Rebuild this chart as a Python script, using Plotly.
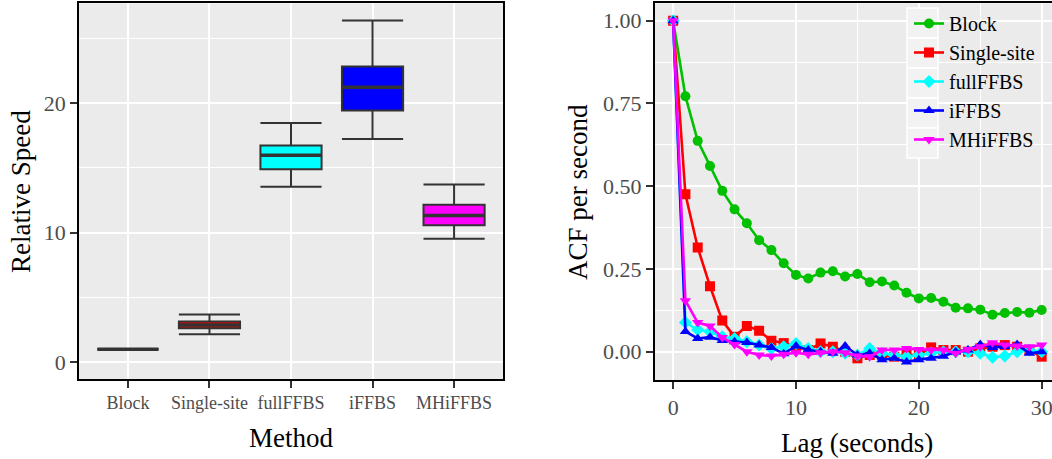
import plotly.graph_objects as go

FONT = "Liberation Serif"

# ---------------- data ----------------
methods = ["Block", "Single-site", "fullFFBS", "iFFBS", "MHiFFBS"]
colors = ["#00C000", "#FF0000", "#00FFFF", "#0000FF", "#FF00FF"]
q_low = [1.0, 2.16, 13.54, 17.22, 9.54]
q1 = [1.0, 2.63, 14.90, 19.43, 10.58]
med = [1.0, 2.88, 15.98, 21.23, 11.32]
q3 = [1.0, 3.14, 16.73, 22.83, 12.15]
q_high = [1.0, 3.68, 18.46, 26.38, 13.71]

lags = list(range(31))
acf_block = [1.00, 0.772, 0.637, 0.561, 0.486, 0.430, 0.388, 0.337, 0.307, 0.267,
             0.232, 0.221, 0.239, 0.243, 0.227, 0.235, 0.210, 0.212, 0.200, 0.178,
             0.161, 0.162, 0.151, 0.133, 0.131, 0.127, 0.112, 0.117, 0.120, 0.118, 0.126]
acf_single = [1.00, 0.476, 0.315, 0.198, 0.094, 0.045, 0.078, 0.063, 0.033, 0.026,
              0.015, 0.005, 0.025, 0.015, 0.000, -0.020, -0.010, -0.010, -0.015, -0.010,
              -0.010, 0.013, 0.005, 0.005, 0.000, 0.010, 0.015, 0.020, 0.015, 0.005, -0.015]
acf_full = [1.00, 0.088, 0.066, 0.060, 0.045, 0.040, 0.030, 0.020, 0.010, 0.015,
            0.025, 0.010, 0.000, 0.000, -0.005, -0.010, 0.010, -0.005, -0.010, -0.015,
            -0.010, -0.005, 0.000, 0.000, 0.000, -0.005, -0.017, -0.013, 0.000, 0.005, 0.000]
acf_iffbs = [1.00, 0.061, 0.040, 0.044, 0.034, 0.030, 0.028, 0.020, 0.013, -0.006,
             0.017, 0.005, 0.000, -0.005, 0.017, -0.010, -0.005, -0.024, -0.020, -0.031,
             -0.024, -0.020, -0.014, 0.000, 0.005, 0.022, 0.013, 0.016, 0.022, -0.005, 0.000]
acf_mh = [1.00, 0.154, 0.088, 0.078, 0.043, 0.022, 0.000, -0.010, -0.013, -0.008,
          -0.003, -0.008, -0.003, 0.000, -0.003, -0.013, -0.015, 0.005, 0.005, 0.010,
          0.007, 0.005, 0.005, -0.005, 0.007, 0.015, 0.027, 0.020, 0.017, 0.015, 0.020]
acf_series = [acf_block, acf_single, acf_full, acf_iffbs, acf_mh]
symbols = ["circle", "square", "diamond", "triangle-up", "triangle-down"]

# ---------------- figure ----------------
fig = go.Figure()
BOXW = 0.75
for i, m in enumerate(methods):
    fig.add_trace(go.Box(
        x=[i], q1=[q1[i]], median=[med[i]], q3=[q3[i]],
        lowerfence=[q_low[i]], upperfence=[q_high[i]],
        width=BOXW, whiskerwidth=1, fillcolor=colors[i],
        line=dict(color="#333333", width=2), boxpoints=False,
        showlegend=False, hoverinfo="skip", xaxis="x", yaxis="y"))
    fig.add_trace(go.Scatter(
        x=[i - BOXW / 2, i + BOXW / 2], y=[med[i], med[i]], mode="lines",
        line=dict(color="#333333", width=3.5), showlegend=False,
        hoverinfo="skip", xaxis="x", yaxis="y"))

for i, m in enumerate(methods):
    fig.add_trace(go.Scatter(
        x=lags, y=acf_series[i], mode="lines+markers", name=m,
        line=dict(color=colors[i], width=2.6),
        marker=dict(symbol=symbols[i], size=10, color=colors[i]),
        xaxis="x2", yaxis="y2"))

W, H = 1052, 459
def px_x(p):
    return p / W
def px_y(p):
    return 1 - p / H

grid_major = dict(showgrid=True, gridcolor="white", gridwidth=1.6)
tick_common = dict(ticks="outside", ticklen=7, tickwidth=1.6, tickcolor="#333333",
                   showline=True, linecolor="black", linewidth=1.5, zeroline=False)

fig.update_layout(
    width=W, height=H,
    margin=dict(l=0, r=0, t=0, b=0),
    paper_bgcolor="white", plot_bgcolor="#EBEBEB",
    font=dict(family=FONT, color="black"),
    xaxis=dict(domain=[px_x(79), px_x(503)], range=[-0.6, 4.6],
               tickvals=list(range(5)), ticktext=methods,
               tickfont=dict(size=18, color="#4D4D4D", family=FONT),
               mirror=True, anchor="y", **grid_major, **tick_common),
    yaxis=dict(domain=[px_y(379), px_y(3.3)], range=[-1.29, 27.7],
               tickvals=[0, 10, 20], tickfont=dict(size=22, color="#4D4D4D", family=FONT),
               minor=dict(showgrid=True, gridcolor="white", gridwidth=0.8, tickvals=[5, 15, 25], ticks=""),
               mirror=True, anchor="x", **grid_major, **tick_common),
    xaxis2=dict(domain=[px_x(654.7), 1.0], range=[-1.5, 30.84],
                tickvals=[0, 10, 20, 30], tickfont=dict(size=22, color="#4D4D4D", family=FONT),
                ticklabeloverflow="allow",
                minor=dict(showgrid=True, gridcolor="white", gridwidth=0.8, tickvals=[5, 15, 25], ticks=""),
                mirror=True, anchor="y2", **grid_major, **tick_common),
    yaxis2=dict(domain=[px_y(380), px_y(3.3)], range=[-0.0855, 1.0526],
                tickvals=[0, 0.25, 0.5, 0.75, 1.0], ticktext=["0.00", "0.25", "0.50", "0.75", "1.00"],
                tickfont=dict(size=22, color="#4D4D4D", family=FONT),
                minor=dict(showgrid=True, gridcolor="white", gridwidth=0.8,
                           tickvals=[0.125, 0.375, 0.625, 0.875], ticks=""),
                mirror=False, anchor="x2", **grid_major, **tick_common),
    legend=dict(x=px_x(909), y=px_y(4), xanchor="left", yanchor="top",
                bgcolor="rgba(0,0,0,0)", font=dict(size=20, family=FONT, color="black"),
                itemwidth=30, tracegroupgap=0),
    showlegend=True,
)

# legend key backgrounds (grey squares with white outlines)
for k in range(len(methods)):
    fig.add_shape(type="rect", xref="paper", yref="paper", layer="above",
                  x0=px_x(907), x1=px_x(938), y0=px_y(8 + 30 * k), y1=px_y(38 + 30 * k),
                  fillcolor="#F2F2F2", line=dict(color="white", width=1.5))

ann = [
    dict(text="Method", x=px_x(291), y=px_y(438)),
    dict(text="Relative Speed", x=px_x(21), y=px_y(192), textangle=-90),
    dict(text="ACF per second", x=px_x(578), y=px_y(192), textangle=-90),
    dict(text="Lag (seconds)", x=px_x(857), y=px_y(443)),
]
for a in ann:
    fig.add_annotation(xref="paper", yref="paper", showarrow=False,
                       xanchor="center", yanchor="middle",
                       font=dict(size=27, family=FONT, color="black"), **a)

fig.write_html("out.html", config={"displayModeBar": False},
               post_script="document.body.style.margin='0';")
